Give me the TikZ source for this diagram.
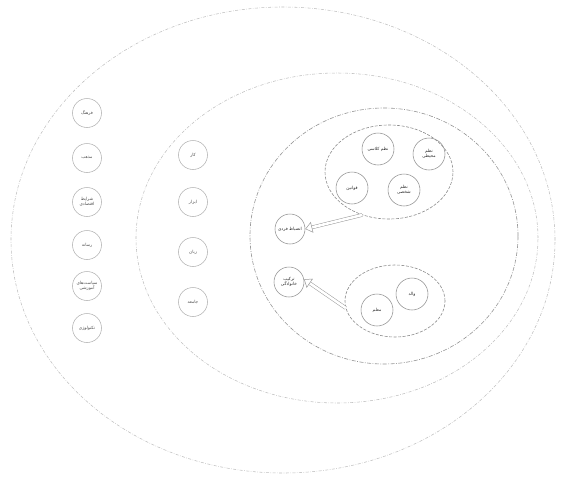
\documentclass[tikz,border=0pt]{standalone}
\usepackage{fontspec}
\usetikzlibrary{shapes.geometric,arrows.meta}
\TeXXeTstate=1
\newfontfamily\arabicfont[Script=Arabic]{DejaVu Sans}
\newcommand{\fatext}[1]{\beginR #1\endR}
\begin{document}
\begin{tikzpicture}[x=1pt,y=-1pt,
  ring/.style={ellipse, draw=gray!50, line width=0.55pt, dash pattern=on 3pt off 1.5pt on 0.6pt off 1.5pt, inner sep=0pt},
  innerring/.style={ellipse, draw=gray!85, line width=0.6pt, dash pattern=on 4pt off 1.5pt on 0.8pt off 1.5pt, inner sep=0pt},
  grp/.style={ellipse, draw=gray!90, line width=0.6pt, dash pattern=on 3pt off 1.5pt, inner sep=0pt},
  bub/.style={circle, draw=gray!60, line width=0.55pt, minimum size=29pt, inner sep=0pt, align=center,
    text=black!70, font=\arabicfont\fontsize{4.3}{5}\selectfont},
  bubd/.style={bub, draw=gray!85, minimum size=32pt, text=black!85},
  hollow/.style={draw=gray!80, line width=0.5pt, double=white, double distance=2.6pt,
    -{Triangle[open, length=7pt, width=11pt]}}
]
\useasboundingbox (0,0) rectangle (566,477);
% rings
\node[ring, minimum width=544pt, minimum height=466pt] (outer) at (283,240) {};
\node[ring, minimum width=402pt, minimum height=330pt] (middle) at (337,238) {};
\node[innerring, minimum width=268pt, minimum height=256pt] (inner) at (384,236) {};
% groups
\node[grp, minimum width=128pt, minimum height=94pt] (gA) at (389,172) {};
\node[grp, minimum width=100pt, minimum height=72pt] (gB) at (395,301) {};
% outer column
\node[bub] (o1) at (87,113) {\fatext{فرهنگ}};
\node[bub] (o2) at (87,158) {\fatext{مذهب}};
\node[bub] (o3) at (87,202) {\fatext{شرایط}\\\fatext{اقتصادی}};
\node[bub] (o4) at (87,245) {\fatext{رسانه}};
\node[bub] (o5) at (87,286) {\fatext{سیاست‌های}\\\fatext{آموزشی}};
\node[bub] (o6) at (87,328) {\fatext{تکنولوژی}};
% middle column
\node[bub] (m1) at (193,155) {\fatext{کار}};
\node[bub] (m2) at (193,202) {\fatext{ابزار}};
\node[bub] (m3) at (193,252) {\fatext{زبان}};
\node[bub] (m4) at (193,302) {\fatext{جامعه}};
% top group
\node[bubd] (t1) at (378,149) {\fatext{نظم کلاسی}};
\node[bubd] (t2) at (429,154) {\fatext{نظم}\\\fatext{محیطی}};
\node[bubd] (t3) at (352,188) {\fatext{قوانین}};
\node[bubd] (t4) at (404,190) {\fatext{نظم}\\\fatext{شخصی}};
% bottom group
\node[bubd] (b1) at (412,294) {\fatext{والد}};
\node[bubd] (b2) at (377,310) {\fatext{معلم}};
% recipients
\node[bubd, minimum size=30pt] (r1) at (290,229) {\fatext{انضباط فردی}};
\node[bubd, minimum size=30pt] (r2) at (289,282) {\fatext{ترکیب}\\\fatext{خانوادگی}};
% arrows
\draw[hollow] (gA.238) -- (r1.east);
\draw[hollow] (gB.188) -- (r2.10);
\end{tikzpicture}
\end{document}
